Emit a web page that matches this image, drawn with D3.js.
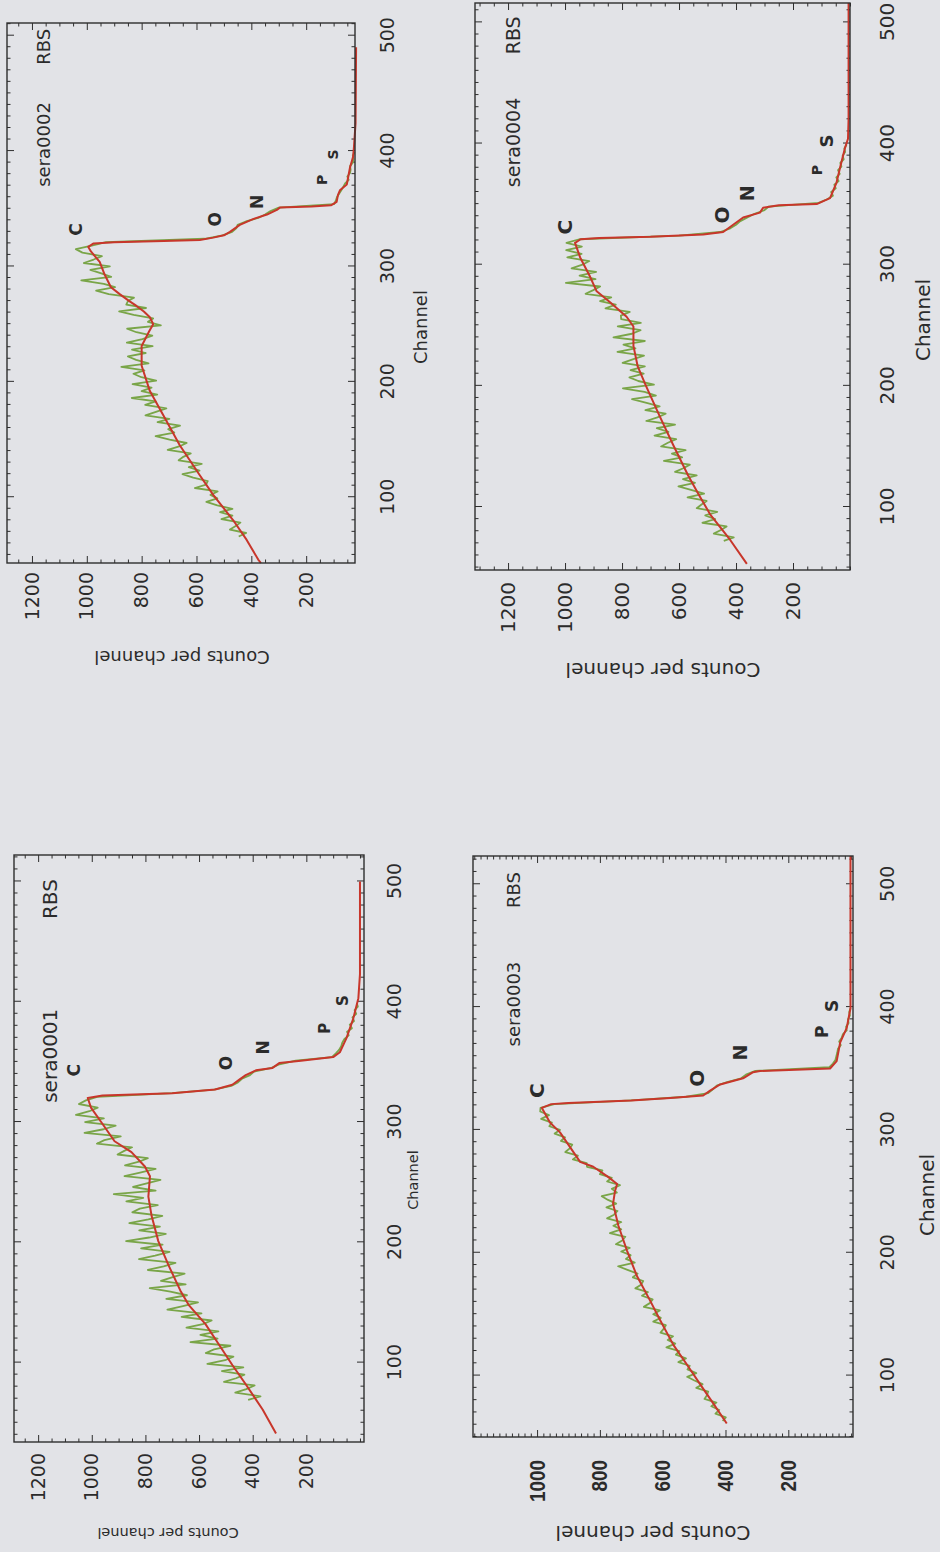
<!DOCTYPE html>
<html>
<head>
<meta charset="utf-8">
<script src="https://cdn.jsdelivr.net/npm/d3@7"></script>
<style>
  html, body { margin: 0; padding: 0; background: #e2e3e7; }
  svg { display: block; }
  text { fill: #2b2b2b; font-family: "DejaVu Sans", sans-serif; }
</style>
</head>
<body>
<svg id="page" width="940" height="1552"></svg>
<script>
// tick labels
const channelTicks = [100, 200, 300, 400, 500];
const countTicks = [200, 400, 600, 800, 1000, 1200];
const countTicksLow = [200, 400, 600, 800, 1000];
const elementNames = ["C", "O", "N", "P", "S"];

// sera0002 : simulated fit [channel, counts], measured spectrum every 3 channels, element label spots
const fit0002 = [[43,365],[46,375],[63,417],[80,466],[102,539],[119,588],[145,661],[171,721],[192,770],[214,800],[231,800],[244,772],[250,758],[256,770],[261,792],[266,820],[270,845],[276,880],[282,912],[293,935],[304,953],[313,985],[317,995],[320,975],[321,900],[322,720],[323,588],[325,539],[327,500],[330,478],[336,442],[341,394],[345,343],[349,307],[351,296],[352,180],[353,110],[356,89],[362,84],[366,77],[371,52],[386,40],[395,29],[403,26],[424,20],[490,18]];
const meas0002Start = 66;
const meas0002 = [446,419,478,457,440,509,469,514,469,524,564,524,549,523,606,565,559,612,651,589,
  628,581,665,648,621,705,663,636,698,749,681,703,660,742,699,786,748,710,787,749,
  836,743,800,764,833,747,801,830,790,874,775,820,850,785,835,760,854,797,761,819,
  853,730,777,758,829,882,784,856,850,828,920,966,897,938,1020,911,947,987,916,1011,
  975,945,1016,1040,982,930,570,
  505,470,455,450,420,375,350,330,300,98,92,88,80,72,65,58,45,50,40,38,40,30,28,30,24];
const marks0002 = [[332,1040],[341,533],[356,381],[375,143],[397,101]];

// sera0004
const fit0004 = [[53,362],[73,421],[94,491],[110,530],[126,568],[151,620],[175,668],[200,716],[216,745],[233,760],[249,760],[257,784],[269,842],[278,889],[290,912],[306,947],[318,965],[321,945],[322,880],[323,700],[325,515],[327,445],[333,410],[339,375],[343,316],[347,305],[349,250],[350,117],[355,70],[360,61],[368,47],[380,35],[396,18],[404,7],[420,5],[516,5]];
const meas0004Start = 72;
const meas0004 = [443,408,478,453,433,518,473,508,466,538,521,503,570,512,555,602,544,586,538,614,
  585,562,653,589,625,577,663,639,610,686,637,678,614,715,676,647,718,668,714,765,
  681,721,797,688,743,774,724,770,720,798,760,723,816,753,795,720,830,765,735,815,
  734,803,804,773,858,822,877,838,928,901,877,997,893,949,891,977,939,915,992,942,
  996,941,995,950,600,
  455,420,400,385,360,335,300,285,110,80,60,66,50,55,40,48,36,42,30,34,22,26,17,20,12];
const marks0004 = [[331,1000],[341,450],[359,362],[378,117],[402,82]];

// sera0001
const fit0001 = [[41,313],[61,363],[82,426],[98,476],[115,526],[132,576],[148,639],[160,670],[181,714],[201,752],[222,777],[238,789],[255,783],[263,802],[275,852],[284,915],[300,965],[312,1003],[320,1015],[322,960],[324,700],[327,540],[331,476],[335,451],[339,426],[343,388],[345,326],[349,301],[351,220],[354,100],[358,75],[370,50],[386,25],[403,6],[423,0],[500,0]];
const meas0001Start = 69;
const meas0001 = [417,371,465,424,393,507,462,431,515,435,569,503,472,575,544,483,632,531,595,528,
  647,586,553,665,591,718,660,604,722,645,707,784,650,742,698,654,791,732,688,824,
  764,710,816,736,872,786,724,823,746,860,789,737,849,821,754,871,808,918,762,846,
  795,744,878,820,762,876,824,791,904,879,850,981,953,892,1027,956,911,1025,955,1059,
  1009,978,1048,1022,980,700,
  545,480,455,440,410,395,330,300,240,105,90,78,70,66,58,42,48,30,38,22,28,14,20,8,12];
const marks0001 = [[343,1065],[349,501],[362,363],[378,132],[401,63]];

// sera0003
const fit0003 = [[61,396],[77,438],[93,481],[109,523],[125,566],[145,608],[161,640],[181,682],[202,714],[222,741],[240,758],[250,752],[256,745],[262,775],[270,821],[274,863],[286,895],[298,927],[306,959],[318,985],[321,955],[322,900],[324,700],[326,576],[328,471],[332,449],[337,417],[342,344],[347,312],[348,290],[350,67],[356,46],[371,35],[383,14],[399,2],[523,2]];
const meas0003Start = 63;
const meas0003 = [409,399,432,420,445,429,467,459,455,493,473,499,522,493,521,514,550,526,558,547,
  588,560,584,567,607,597,590,630,606,630,609,660,641,632,666,647,687,669,662,695,
  680,712,742,689,717,702,732,705,749,729,719,768,732,757,732,777,755,744,779,748,
  774,794,746,762,736,777,762,800,792,841,842,886,870,910,896,888,924,911,944,927,
  961,953,987,962,990,989,945,700,
  525,455,440,428,395,350,335,305,70,58,50,47,44,42,33,38,30,26,14,16,8,10,4,6,2];
const marks0003 = [[332,1001],[342,491],[363,354],[380,93],[401,61]];

const svg = d3.select("#page");
const RED = "#c8362b", GREEN = "#79a548", INK = "#2e2e2e";

// each plot is drawn upright, then turned a quarter turn like the scanned page
const panels = [
  { name: "sera0002", fit: fit0002, start: meas0002Start, meas: meas0002, marks: marks0002,
    box: { left: 7, right: 355, top: 23, bottom: 563 }, ch: [43, 511], ct: [22, 1291],
    ctTicks: countTicks, ctMinor: 50, chPad: 26, ctPad: 9, tickSize: 19,
    xTitle: [236, 65], yTitle: [-94, 175], axisFont: 18,
    label: [369, 506, 1157, 18], markSize: [17, 17, 17, 14, 14] },
  { name: "sera0004", fit: fit0004, start: meas0004Start, meas: meas0004, marks: marks0004,
    box: { left: 475, right: 850, top: 3, bottom: 570 }, ch: [48, 516], ct: [0, 1316],
    ctTicks: countTicks, ctMinor: 50, chPad: 30, ctPad: 12, tickSize: 20,
    xTitle: [250, 73], yTitle: [-100, 188], axisFont: 20,
    label: [364, 505, 1182, 19], markSize: [20, 20, 19, 14, 18] },
  { name: "sera0001", fit: fit0001, start: meas0001Start, meas: meas0001, marks: marks0001,
    box: { left: 14, right: 364, top: 855, bottom: 1442 }, ch: [34, 522], ct: [-15, 1290],
    ctTicks: countTicks, ctMinor: 50, chPad: 24, ctPad: 11, tickSize: 19,
    xTitle: [262, 49], yTitle: [-91, 154], axisFont: 14.5,
    label: [316, 502, 1154, 20], markSize: [17, 17, 17, 15, 15] },
  { name: "sera0003", fit: fit0003, start: meas0003Start, meas: meas0003, marks: marks0003,
    box: { left: 473, right: 853, top: 856, bottom: 1437 }, ch: [50, 523], ct: [-6, 1204],
    ctTicks: countTicksLow, ctMinor: 20, chPad: 28, ctPad: 23, tickSize: 19, boldCounts: true,
    xTitle: [242, 74], yTitle: [-96, 180], axisFont: 20,
    label: [368, 510, 1076, 18], markSize: [20, 20, 19, 17, 17] }
];

function minorTicks(domain, step, majors) {
  return d3.range(Math.ceil(domain[0] / step) * step, domain[1] + 0.001, step)
    .filter(v => !majors.includes(v));
}

panels.forEach(p => {
  const W = p.box.bottom - p.box.top;
  const H = p.box.right - p.box.left;
  const g = svg.append("g")
    .attr("transform", `translate(${p.box.left},${p.box.bottom}) rotate(-90)`);

  const x = d3.scaleLinear().domain(p.ch).range([0, W]);
  const y = d3.scaleLinear().domain(p.ct).range([H, 0]);

  const chMinor = minorTicks(p.ch, 10, channelTicks);
  const ctMinor = minorTicks(p.ct, p.ctMinor, p.ctTicks);

  // channel axis (bottom) with labels, mirrored on top
  const xAxis = g.append("g").attr("transform", `translate(0,${H})`)
    .call(d3.axisBottom(x).tickValues(channelTicks).tickSize(-7).tickPadding(p.chPad).tickFormat(d3.format("d")));
  g.append("g").attr("transform", `translate(0,${H})`)
    .call(d3.axisBottom(x).tickValues(chMinor).tickSize(-3.5).tickFormat(""));
  g.append("g").call(d3.axisTop(x).tickValues(channelTicks).tickSize(-7).tickFormat(""));
  g.append("g").call(d3.axisTop(x).tickValues(chMinor).tickSize(-3.5).tickFormat(""));

  // counts axis (left) with labels, mirrored on the right
  const yAxis = g.append("g")
    .call(d3.axisLeft(y).tickValues(p.ctTicks).tickSize(-7).tickPadding(p.ctPad).tickFormat(d3.format("d")));
  g.append("g").call(d3.axisLeft(y).tickValues(ctMinor).tickSize(-3.5).tickFormat(""));
  g.append("g").attr("transform", `translate(${W},0)`)
    .call(d3.axisRight(y).tickValues(p.ctTicks).tickSize(-7).tickFormat(""));
  g.append("g").attr("transform", `translate(${W},0)`)
    .call(d3.axisRight(y).tickValues(ctMinor).tickSize(-3.5).tickFormat(""));

  g.selectAll(".domain").remove();
  g.selectAll(".tick line").attr("stroke", INK).attr("stroke-width", 1);

  xAxis.selectAll("text")
    .attr("fill", INK).style("font-family", "DejaVu Sans, sans-serif").style("font-size", p.tickSize + "px");
  yAxis.selectAll("text")
    .attr("fill", INK).style("font-family", "DejaVu Sans, sans-serif").style("font-size", p.tickSize + "px");
  if (p.boldCounts) {
    yAxis.selectAll("text")
      .style("font-family", "Liberation Sans Narrow, Liberation Sans, sans-serif")
      .style("font-weight", "bold").style("font-size", "22px")
      .attr("textLength", d => String(d).length * 10.5)
      .attr("lengthAdjust", "spacingAndGlyphs");
  }

  // measured spectrum (green) and simulation (red)
  const measPts = p.meas.map((v, i) => [p.start + 3 * i, v]);
  const line = d3.line().x(d => x(d[0])).y(d => y(d[1]));
  g.append("path").attr("d", line(measPts))
    .attr("fill", "none").attr("stroke", GREEN).attr("stroke-width", 1.8).attr("stroke-linejoin", "round");
  g.append("path").attr("d", line(p.fit))
    .attr("fill", "none").attr("stroke", RED).attr("stroke-width", 2).attr("stroke-linejoin", "round");

  // frame
  g.append("rect").attr("width", W).attr("height", H)
    .attr("fill", "none").attr("stroke", INK).attr("stroke-width", 1.4);

  // axis titles
  g.append("text").text("Channel")
    .attr("x", p.xTitle[0]).attr("y", H + p.xTitle[1])
    .attr("text-anchor", "middle").attr("dominant-baseline", "central")
    .style("font-size", p.axisFont + "px");
  g.append("text").text("Counts per channel")
    .attr("transform", `translate(${p.yTitle[0]},${p.yTitle[1]}) rotate(-90)`)
    .attr("text-anchor", "middle").attr("dominant-baseline", "central")
    .style("font-size", p.axisFont + "px");

  // run name and RBS tag
  g.append("text").text(p.name)
    .attr("x", x(p.label[0])).attr("y", y(p.label[2]))
    .attr("dominant-baseline", "central").style("font-size", p.label[3] + "px");
  g.append("text").text("RBS")
    .attr("x", x(p.label[1])).attr("y", y(p.label[2]))
    .attr("text-anchor", "end").attr("dominant-baseline", "central").style("font-size", p.label[3] + "px");

  // element edge labels
  g.selectAll("text.mark").data(p.marks).enter().append("text")
    .attr("class", "mark")
    .text((d, i) => elementNames[i])
    .attr("x", d => x(d[0])).attr("y", d => y(d[1]))
    .attr("text-anchor", "middle").attr("dominant-baseline", "central")
    .style("font-weight", "bold")
    .style("font-size", (d, i) => p.markSize[i] + "px");
});
</script>
</body>
</html>
